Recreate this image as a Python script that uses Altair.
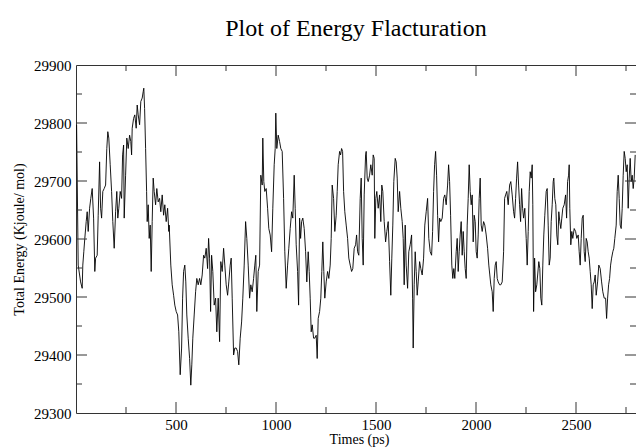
import altair as alt
import pandas as pd

times = [3, 11, 23, 31, 34, 39, 44, 51, 56, 61, 68, 74, 81, 88, 94, 98, 106, 111, 118, 123,
         128, 134, 141, 148, 154, 159, 164, 171, 178, 184, 191, 198, 204, 209, 214, 221, 228, 233, 238, 241,
         248, 254, 261, 268, 274, 278, 281, 288, 294, 301, 306, 311, 318, 324, 331, 336, 339, 343, 348, 353,
         356, 361, 366, 371, 376, 381, 386, 391, 398, 404, 411, 418, 424, 431, 438, 444, 451, 458, 464,
         466, 474, 481, 488, 494, 501, 508, 514, 521, 528, 533, 538, 544, 549, 554, 561, 568, 574, 579, 584,
         591, 598, 604, 611, 618, 624, 631, 638, 644, 651, 658, 663, 668, 673, 678, 684, 691, 698, 704, 711,
         718, 724, 731, 738, 744, 751, 758, 764, 771, 776, 781, 788, 794, 801, 808, 814, 821, 828, 834, 841,
         848, 854, 861, 868, 874, 881, 888, 894, 899, 904, 911, 918, 924,
         931, 934, 939, 944, 951, 958, 964, 971, 978, 984, 991, 996, 999, 1004, 1011, 1018, 1024, 1031, 1038, 1044,
         1051, 1058, 1064, 1071, 1078, 1084, 1091, 1096, 1101, 1108, 1113, 1118, 1123, 1128, 1134, 1141, 1148, 1154, 1161, 1166,
         1171, 1176, 1181, 1188, 1194, 1201, 1206, 1211, 1218, 1224, 1229, 1234, 1239, 1244, 1251, 1258, 1264, 1271, 1276, 1281,
         1288, 1294, 1301, 1306, 1311, 1318, 1323, 1328, 1333, 1338, 1344, 1351, 1358, 1364, 1371, 1378, 1384,
         1391, 1398, 1403, 1408, 1414, 1421, 1426, 1431, 1436, 1441, 1448, 1451, 1456, 1461, 1468, 1474, 1481, 1486, 1491, 1494,
         1499, 1504, 1511, 1518, 1524, 1529, 1534, 1541, 1548, 1554, 1561, 1568, 1574, 1579, 1584, 1589, 1596, 1601, 1606, 1611,
         1618, 1624, 1631, 1636, 1641, 1646, 1651, 1658, 1664, 1671, 1678, 1683, 1686, 1691, 1696, 1701, 1706, 1711, 1718, 1724,
         1731, 1738, 1744, 1751, 1758, 1764, 1771, 1778, 1783, 1788, 1793, 1798, 1803, 1808, 1813, 1818, 1824, 1831, 1838, 1844,
         1851, 1858, 1863, 1868, 1873, 1879, 1884, 1889, 1894, 1901, 1906, 1911, 1916, 1921, 1926, 1931, 1936, 1941, 1946, 1951,
         1956, 1961, 1966, 1971, 1976, 1981, 1986, 1991, 1996, 2001, 2006, 2011, 2016, 2021, 2026, 2031, 2038, 2044, 2051, 2058,
         2064, 2069, 2074, 2081, 2086, 2091, 2096, 2101, 2106, 2111, 2118, 2124, 2131, 2138, 2143, 2148, 2154, 2161, 2168, 2174,
         2181, 2188, 2193, 2198, 2203, 2208, 2213, 2218, 2223, 2228, 2233, 2238, 2244, 2251, 2256, 2261, 2266, 2271, 2276, 2281,
         2284, 2288, 2293, 2298, 2304,
         2314, 2319, 2324, 2329, 2334, 2339, 2344, 2351, 2356, 2361, 2366, 2371, 2376, 2381, 2386, 2389, 2394, 2399, 2404, 2409,
         2414, 2419, 2424, 2429, 2434, 2441, 2448, 2453, 2458, 2463, 2466, 2469, 2474, 2479, 2484, 2491, 2498, 2504, 2511, 2516,
         2521, 2526, 2531, 2536, 2541, 2546, 2551, 2556, 2561, 2566, 2571, 2576, 2581, 2586, 2591, 2596, 2601, 2608, 2614, 2621,
         2628, 2634, 2641, 2648, 2653, 2658, 2663, 2668, 2673, 2678, 2684, 2689, 2694, 2701, 2706, 2711, 2716, 2721, 2726, 2731,
         2736, 2741, 2746, 2751, 2756, 2761, 2766, 2771, 2776, 2781, 2786, 2791, 2796]

energy = [29797, 29555, 29526, 29515, 29555, 29578, 29601, 29630, 29647, 29613, 29653, 29670, 29687, 29636, 29544, 29567, 29572, 29641, 29733, 29653,
          29636, 29682, 29687, 29693, 29756, 29785, 29774, 29728, 29682, 29630, 29584, 29647, 29682, 29636, 29653, 29682, 29670, 29745, 29762, 29636,
          29710, 29774, 29756, 29779, 29768, 29745, 29791, 29808, 29814, 29791, 29831, 29814, 29797, 29837, 29843, 29854, 29860, 29825, 29756, 29682,
          29630, 29659, 29601, 29624, 29544, 29630, 29705, 29682, 29659, 29687, 29664, 29670, 29647, 29676, 29641, 29659, 29630, 29653, 29613,
          29624, 29555, 29521, 29503, 29486, 29475, 29469, 29440, 29366, 29412, 29498, 29544, 29555, 29526, 29469, 29429, 29394, 29348, 29383, 29429,
          29469, 29509, 29532, 29521, 29532, 29521, 29538, 29572, 29567, 29584, 29549, 29601, 29567, 29475, 29572, 29544, 29486, 29498, 29440, 29498,
          29423, 29561, 29544, 29584, 29555, 29521, 29503, 29526, 29555, 29567, 29498, 29400, 29412, 29412, 29406, 29383, 29429, 29457, 29498, 29555,
          29630, 29601, 29555, 29498, 29521, 29509, 29532, 29555, 29572, 29475, 29544, 29555, 29710,
          29693, 29774, 29699, 29682, 29687, 29653, 29618, 29607, 29578, 29653, 29728, 29756, 29817, 29756, 29779, 29768, 29756, 29751, 29670, 29578,
          29515, 29555, 29584, 29618, 29647, 29636, 29710, 29653, 29590, 29544, 29486, 29636, 29601, 29630, 29636, 29618, 29578, 29526, 29578, 29544,
          29498, 29440, 29452, 29429, 29429, 29434, 29394, 29463, 29475, 29498, 29544, 29595, 29544, 29498, 29526, 29544, 29532, 29555, 29601, 29693,
          29670, 29613, 29641, 29682, 29728, 29751, 29745, 29756, 29751, 29682, 29647, 29624, 29601, 29567, 29555, 29544, 29549,
          29584, 29590, 29607, 29578, 29572, 29670, 29705, 29601, 29555, 29676, 29745, 29751, 29705, 29699, 29710, 29728, 29710, 29745, 29739, 29601,
          29670, 29682, 29653, 29676, 29630, 29693, 29682, 29630, 29595, 29613, 29630, 29561, 29503, 29567, 29624, 29699, 29739, 29733, 29705, 29647,
          29682, 29653, 29630, 29601, 29521, 29624, 29555, 29515, 29578, 29590, 29607, 29498, 29412, 29521, 29578, 29544, 29503, 29526, 29561, 29549,
          29538, 29567, 29624, 29647, 29670, 29601, 29578, 29572, 29613, 29682, 29728, 29751, 29710, 29641, 29595, 29636, 29630, 29636, 29670, 29676,
          29659, 29693, 29728, 29699, 29641, 29555, 29532, 29549, 29532, 29578, 29601, 29544, 29578, 29607, 29630, 29572, 29613, 29578, 29549, 29532,
          29624, 29670, 29728, 29682, 29659, 29676, 29595, 29641, 29630, 29578, 29567, 29607, 29670, 29705, 29624, 29613, 29630, 29624, 29607, 29584,
          29555, 29538, 29521, 29509, 29475, 29532, 29555, 29561, 29532, 29526, 29521, 29521, 29526, 29578, 29670, 29676, 29682, 29659, 29693, 29699,
          29676, 29647, 29636, 29670, 29705, 29733, 29693, 29659, 29630, 29687, 29653, 29636, 29653, 29601, 29555, 29613, 29682, 29716, 29705, 29728,
          29659, 29475, 29567, 29509, 29521,
          29561, 29549, 29498, 29486, 29555, 29607, 29641, 29682, 29687, 29624, 29555, 29567, 29630, 29659, 29699, 29705, 29670, 29659, 29607, 29590,
          29647, 29630, 29618, 29636, 29653, 29659, 29676, 29636, 29699, 29710, 29728, 29653, 29590, 29613, 29601, 29618, 29613, 29601, 29607, 29578,
          29555, 29601, 29636, 29641, 29578, 29561, 29601, 29595, 29578, 29567, 29544, 29521, 29480, 29521, 29526, 29538, 29503, 29526, 29555, 29549,
          29526, 29509, 29498, 29498, 29463, 29498, 29521, 29532, 29555, 29567, 29578, 29584, 29601, 29624, 29682, 29710, 29670, 29624, 29618, 29653,
          29710, 29751, 29739, 29716, 29728, 29653, 29705, 29739, 29699, 29710, 29687, 29705, 29745]

x_major_ticks = [500, 1000, 1500, 2000, 2500]
x_minor_ticks = [250, 750, 1250, 1750, 2250, 2750]
y_labels = [29300, 29400, 29500, 29600, 29700, 29800, 29900]
y_major_ticks = [29400, 29500, 29600, 29700, 29800]
y_minor_ticks = [29350, 29450, 29550, 29650, 29750, 29850]

W, H = 560, 348
FONT = "Liberation Serif"
FRAME = "#333333"

df = pd.DataFrame({"t": times, "e": energy})
xscale = alt.Scale(domain=[0, 2800], nice=False, zero=False)
yscale = alt.Scale(domain=[29300, 29900], nice=False, zero=False)

line = alt.Chart(df).mark_line(color="black", strokeWidth=0.9, clip=True).encode(
    x=alt.X("t:Q", scale=xscale,
            axis=alt.Axis(title="Times (ps)", values=x_major_ticks, format="d", ticks=False, domain=False, grid=False,
                          labelFont=FONT, labelFontSize=15, labelColor="black", labelPadding=4,
                          titleFont=FONT, titleFontSize=14, titleFontWeight="normal", titleColor="black",
                          titleBaseline="bottom", titlePadding=0, titleX=283, titleY=33)),
    y=alt.Y("e:Q", scale=yscale,
            axis=alt.Axis(title="Total Energy (Kjoule/ mol)", values=y_labels, format="d",
                          ticks=False, domain=False, grid=False,
                          labelFont=FONT, labelFontSize=15, labelColor="black", labelPadding=5,
                          titleFont=FONT, titleFontSize=14, titleFontWeight="normal", titleColor="black",
                          titleX=-50)),
)

def xticks(vals, size):
    d = pd.DataFrame({"v": vals})
    bottom = alt.Chart(d).mark_rule(color=FRAME, strokeWidth=1).encode(
        x=alt.X("v:Q", scale=xscale), y=alt.value(H), y2=alt.value(H - size))
    top = alt.Chart(d).mark_rule(color=FRAME, strokeWidth=1).encode(
        x=alt.X("v:Q", scale=xscale), y=alt.value(0), y2=alt.value(size))
    return [bottom, top]

def yticks(vals, size):
    d = pd.DataFrame({"v": vals})
    left = alt.Chart(d).mark_rule(color=FRAME, strokeWidth=1).encode(
        y=alt.Y("v:Q", scale=yscale), x=alt.value(0), x2=alt.value(size))
    right = alt.Chart(d).mark_rule(color=FRAME, strokeWidth=1).encode(
        y=alt.Y("v:Q", scale=yscale), x=alt.value(W), x2=alt.value(W - size))
    return [left, right]

layers = [line] + xticks(x_major_ticks, 11) + xticks(x_minor_ticks, 6) + yticks(y_major_ticks, 11) + yticks(y_minor_ticks, 6)

chart = alt.layer(*layers).properties(
    width=W, height=H,
    title=alt.TitleParams("Plot of Energy Flacturation", font=FONT, fontSize=24, fontWeight="normal",
                          color="black", anchor="middle", offset=17),
    autosize=alt.AutoSizeParams(type="none"),
    padding={"left": 76, "top": 65, "right": 0, "bottom": 35},
).configure_view(stroke=FRAME, strokeWidth=1)

chart.save("out.html", embed_options={"renderer": "svg", "actions": False})
